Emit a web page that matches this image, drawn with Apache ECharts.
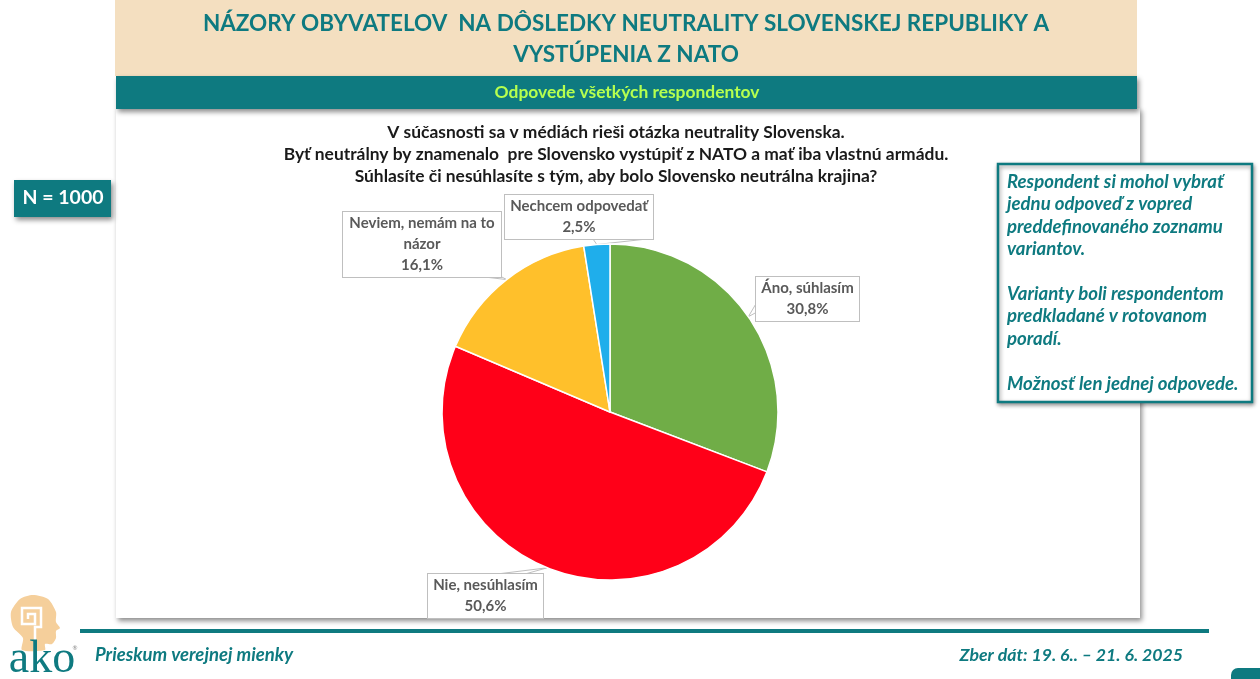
<!doctype html>
<html>
<head>
<meta charset="utf-8">
<title>Názory obyvateľov</title>
<script src="https://cdn.jsdelivr.net/npm/echarts@6/dist/echarts.min.js"></script>
</head>
<body style="margin:0;padding:0;background:#fff">
<div id="tb" style="width:1260px;height:679px;"></div>
<script>
var categories = ['Áno, súhlasím', 'Nie, nesúhlasím', 'Neviem, nemám na to\nnázor', 'Nechcem odpovedať'];
var values = [30.8, 50.6, 16.1, 2.5];
var colors = ['#70AD47', '#FF0018', '#FFC02B', '#1FAEEB'];
// callout boxes: centre x, top y, inner width
var labelX = [807.5, 485.5, 422, 579];
var labelY = [277, 574, 212, 195];
var labelW = [99, 111, 154, 144];
// where the callout wedge meets its box, the tip sits on the slice
var wedgeA = [[757, 302], [497, 574], [476, 276], [593, 239]];
var wedgeB = [[757, 312], [525, 574], [500, 276], [647, 239]];

var titleLines = ['NÁZORY OBYVATELOV  NA DÔSLEDKY NEUTRALITY SLOVENSKEJ REPUBLIKY A', 'VYSTÚPENIA Z NATO'];
var questionLines = [
	'V súčasnosti sa v médiách rieši otázka neutrality Slovenska.',
	'Byť neutrálny by znamenalo  pre Slovensko vystúpiť z NATO a mať iba vlastnú armádu.',
	'Súhlasíte či nesúhlasíte s tým, aby bolo Slovensko neutrálna krajina?'
];
var noteLines = ['Respondent si mohol vybrať', 'jednu odpoveď z vopred', 'preddefinovaného zoznamu', 'variantov.', '',
	'Varianty boli respondentom', 'predkladané v rotovanom', 'poradí.', '', 'Možnosť len jednej odpovede.'];

var TEAL = '#0E7A80';
var FONT = 'Lato, "Open Sans", sans-serif';

function txt(x, y, s, size, color, extra) {
	var st = {x: x, y: y, text: s, fontFamily: FONT, fontSize: size, fontWeight: 'bold', fill: color, textAlign: 'center', textVerticalAlign: 'middle'};
	for (var k in extra) st[k] = extra[k];
	return {type: 'text', z: 5, style: st};
}
function box(x, y, w, h, fill, extra) {
	var st = {fill: fill};
	for (var k in extra) st[k] = extra[k];
	return {type: 'rect', z: 1, shape: {x: x, y: y, width: w, height: h}, style: st};
}

var shade = {shadowBlur: 5, shadowOffsetX: 2, shadowOffsetY: 3, shadowColor: 'rgba(0,0,0,0.45)'};
var furniture = [
	box(116, 108, 1024, 510, '#fff', shade),
	box(115, 0, 1022, 76, '#F4DFC0'),
	box(116, 76, 1021, 33, TEAL, shade),
	box(14, 180, 97, 37, TEAL, shade),
	box(998, 164, 254, 238, '#fff', {stroke: TEAL, lineWidth: 2.5, shadowBlur: 4, shadowOffsetX: 1, shadowOffsetY: 2, shadowColor: 'rgba(0,0,0,0.4)'}),
	box(80, 629, 1129, 4, TEAL),
	{type: 'rect', z: 1, shape: {x: 1231, y: 668, width: 40, height: 30, r: 7}, style: {fill: TEAL}},
	txt(626, 24, titleLines[0], 22.5, TEAL),
	txt(626, 55, titleLines[1], 22.5, TEAL),
	txt(627, 92, 'Odpovede všetkých respondentov', 17.4, '#B6FF4F'),
	txt(63, 198, 'N = 1000', 19.5, '#fff'),
	txt(95, 655, 'Prieskum verejnej mienky', 18.5, TEAL, {textAlign: 'left', fontStyle: 'italic'}),
	txt(1183, 655, 'Zber dát: 19. 6.. – 21. 6. 2025', 17.7, TEAL, {textAlign: 'right', fontStyle: 'italic'}),
	// logo: head, spiral, wordmark
	{type: 'polygon', z: 2, shape: {points: [[33, 595], [48, 599], [56, 612], [56, 622], [60, 628], [56, 631], [56, 638], [52, 644], [45, 644], [45, 650], [22, 650], [23, 638], [13, 627], [11, 612], [20, 599]], smooth: 0.25}, style: {fill: '#F5CF9B'}},
	{type: 'polyline', z: 3, shape: {points: [[35, 651], [35, 627], [41, 627], [41, 608], [22, 608], [22, 624], [35, 624], [35, 614], [28, 614], [28, 619]]}, style: {fill: null, stroke: '#fff', lineWidth: 2.5}},
	{type: 'text', z: 4, style: {x: 42, y: 660, text: 'ako', fontFamily: '"Liberation Serif", serif', fontSize: 46, fill: TEAL, textAlign: 'center', textVerticalAlign: 'middle'}},
	{type: 'text', z: 4, style: {x: 75, y: 648, text: '®', fontFamily: FONT, fontSize: 6, fill: '#888', textAlign: 'center', textVerticalAlign: 'middle'}}
];
questionLines.forEach(function(s, i) {
	furniture.push(txt(616, 132 + i * 22, s, 17.4, '#1a1a1a'));
});
noteLines.forEach(function(s, i) {
	if (s) furniture.push(txt(1007, 182 + i * 22.4, s, 18.6, TEAL, {textAlign: 'left', fontStyle: 'italic'}));
});

var pieData = categories.map(function(name, i) {
	return {
		name: name,
		value: values[i],
		itemStyle: {color: colors[i]},
		label: {width: labelW[i]}
	};
});

var chart = echarts.init(document.getElementById('tb'));
chart.setOption({
	animation: false,
	graphic: {elements: furniture},
	series: [{
		type: 'pie',
		z: 3,
		center: [610, 412],
		radius: 168,
		startAngle: 90,
		clockwise: true,
		itemStyle: {borderColor: '#fff', borderWidth: 1.5},
		label: {
			show: true,
			formatter: function(p) {
				return p.name + '\n' + String(p.value).replace('.', ',') + '%';
			},
			fontFamily: FONT,
			fontSize: 15,
			fontWeight: 'bold',
			lineHeight: 21,
			color: '#595959',
			align: 'center',
			backgroundColor: '#fff',
			borderColor: '#BFBFBF',
			borderWidth: 1,
			padding: [1, 2]
		},
		labelLine: {show: true, lineStyle: {color: '#BFBFBF', width: 1}},
		labelLayout: function(p) {
			var i = p.dataIndex;
			return {
				x: labelX[i],
				y: labelY[i],
				align: 'center',
				verticalAlign: 'top',
				labelLinePoints: [wedgeA[i], p.labelLinePoints[0], wedgeB[i]]
			};
		},
		data: pieData
	}]
});
</script>
</body>
</html>
